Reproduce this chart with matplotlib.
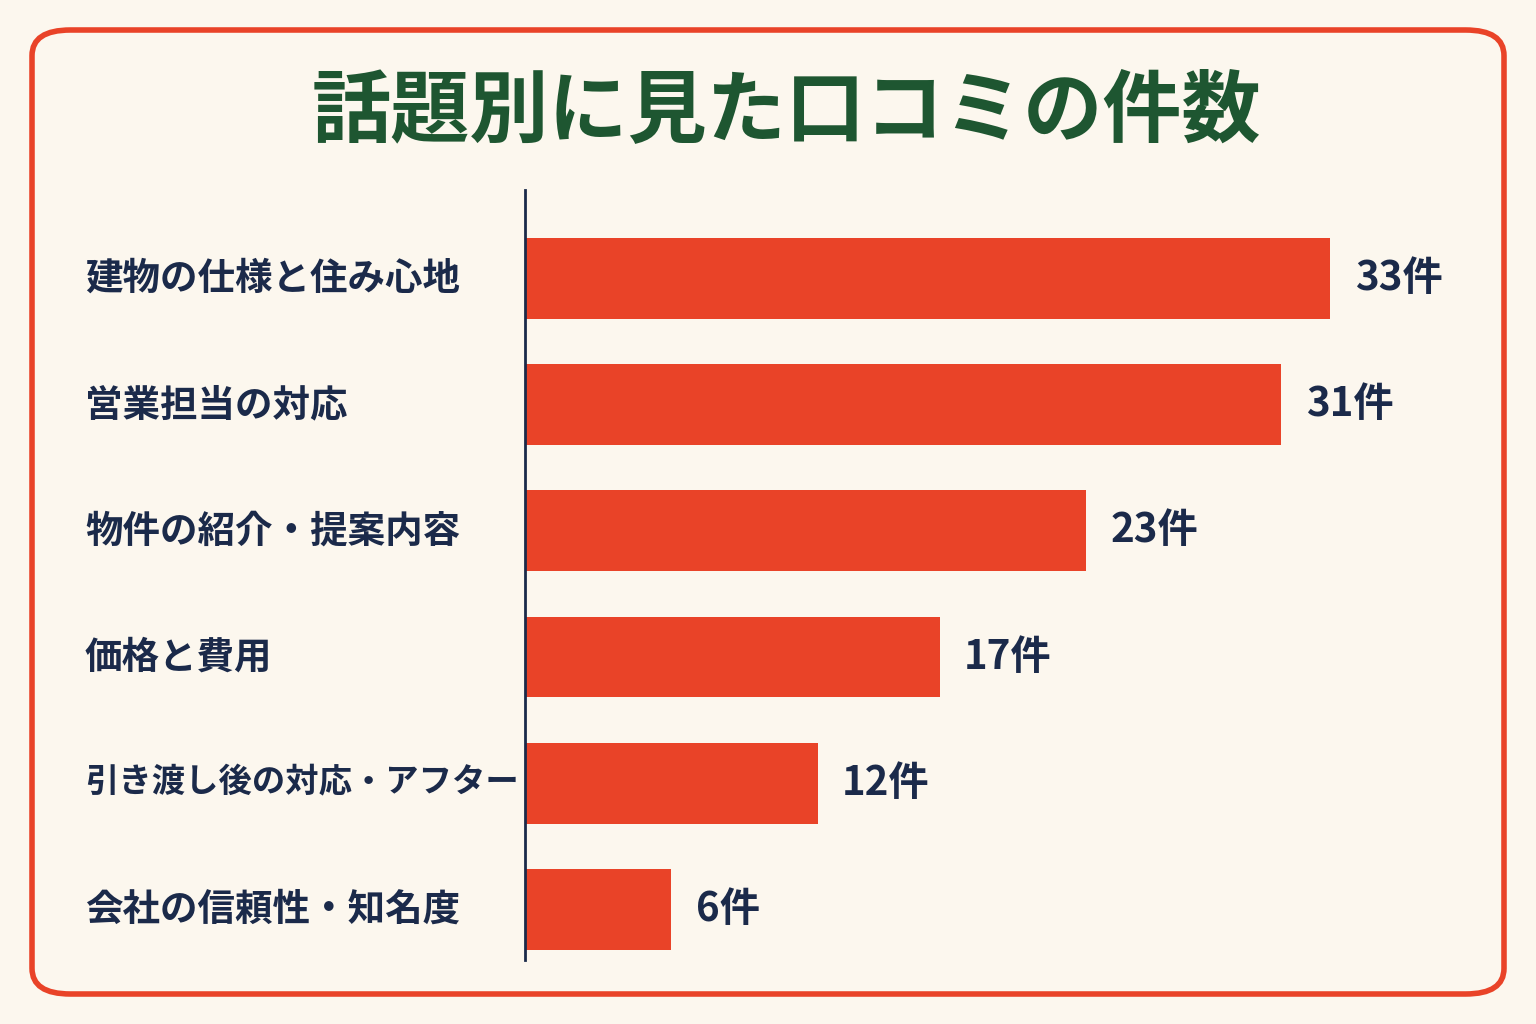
import matplotlib.pyplot as plt
from matplotlib.patches import FancyBboxPatch

plt.rcParams['font.family'] = ['Noto Sans CJK JP', 'DejaVu Sans']

topics = ["建物の仕様と住み心地", "営業担当の対応", "物件の紹介・提案内容",
          "価格と費用", "引き渡し後の対応・アフター", "会社の信頼性・知名度"]
counts = [33, 31, 23, 17, 12, 6]

bg = "#FCF7EE"
red = "#E94328"
navy = "#1B2A4A"
green = "#1E5631"

fig = plt.figure(figsize=(15.36, 10.24), dpi=100, facecolor=bg)
border = FancyBboxPatch((32/1536, 30/1024), 1472/1536, 964/1024,
                        boxstyle="round,pad=0,rounding_size=0.025",
                        transform=fig.transFigure, fill=False,
                        edgecolor=red, linewidth=4)
fig.patches.append(border)

fig.text(0.512, 1 - 112/1024, "話題別に見た口コミの件数", ha="center", va="center",
         fontsize=57, fontweight="bold", color=green)

ax = fig.add_axes([525/1536, 64/1024, 900/1536, 770/1024])
ax.set_facecolor(bg)
y = list(range(len(topics)))
ax.barh(y, counts, height=0.64, color=red)
ax.set_xlim(0, 900/24.4)
ax.set_ylim(5.4, -0.7)
for s in ["top", "right", "bottom"]:
    ax.spines[s].set_visible(False)
ax.spines["left"].set_color(navy)
ax.spines["left"].set_linewidth(2)
ax.set_xticks([])
ax.set_yticks([])

for i, (t, c) in enumerate(zip(topics, counts)):
    ax.text(c + 1.0, i, f"{c}件", va="center", ha="left", fontsize=29,
            fontweight="bold", color=navy)
    yy = ax.transData.transform((0, i))[1]
    fig.text(85/1536, fig.transFigure.inverted().transform((0, yy))[1], t,
             va="center", ha="left", fontsize=27 if len(t) < 12 else 24,
             fontweight="bold", color=navy)

fig.savefig("out.png", dpi=100, facecolor=bg)
